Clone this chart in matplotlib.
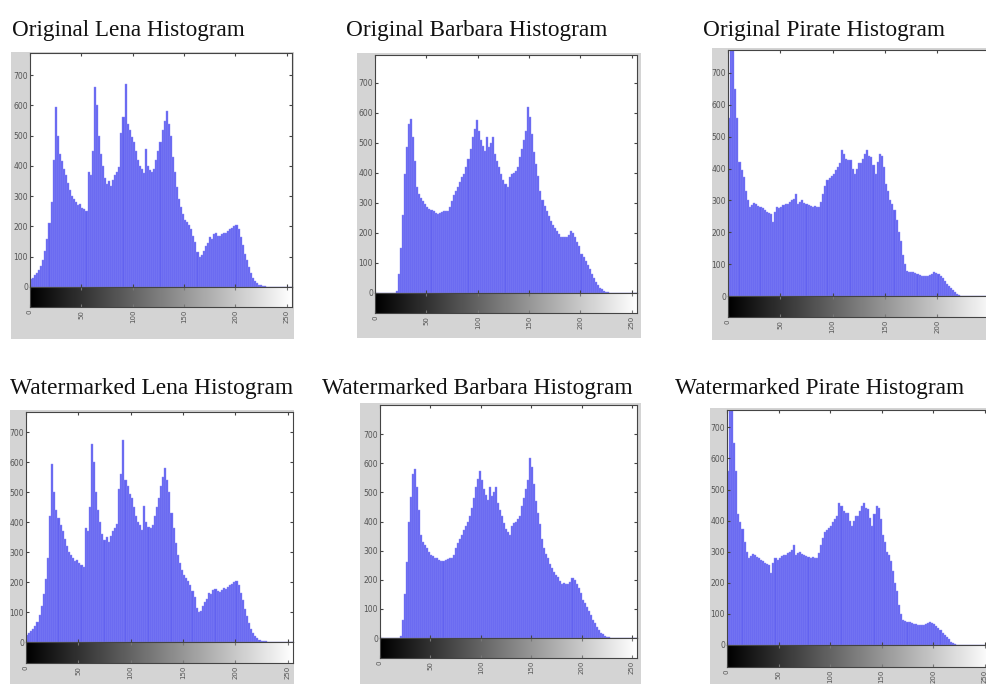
import matplotlib
matplotlib.use('Agg')
import matplotlib.pyplot as plt
import numpy as np
from matplotlib.patches import Rectangle

# gray levels, one value per pair of levels (0, 2, 4, ... 254)
gray_levels = np.arange(0, 256, 2)

lena = [25, 30, 38, 45, 55, 68, 90, 120, 160, 210, 280, 420, 595, 500, 440, 415,
        390, 370, 345, 320, 300, 290, 280, 270, 275, 262, 258, 250, 380, 370, 450, 660,
        600, 500, 440, 400, 360, 340, 350, 335, 355, 370, 380, 395, 510, 560, 672, 540,
        520, 495, 480, 450, 420, 400, 390, 375, 455, 400, 385, 380, 390, 420, 450, 480,
        520, 550, 580, 540, 500, 430, 380, 330, 290, 265, 240, 222, 215, 205, 190, 170,
        150, 115, 100, 105, 120, 135, 145, 165, 160, 175, 178, 170, 168, 175, 180, 178,
        185, 190, 195, 200, 205, 190, 165, 140, 110, 88, 65, 45, 30, 20, 12, 8,
        5, 3, 2, 1, 0, 0, 0, 0, 0, 0, 0, 0, 0, 0, 0, 0]

barbara = [0, 0, 0, 0, 0, 0, 0, 0, 0, 0, 8, 63, 150, 260, 397, 485,
           563, 580, 519, 440, 352, 330, 318, 308, 295, 286, 280, 275, 274, 268, 263, 266,
           269, 272, 274, 274, 285, 308, 325, 340, 352, 370, 385, 397, 420, 445, 480, 519,
           545, 575, 541, 510, 490, 474, 519, 486, 500, 519, 463, 440, 419, 395, 375, 363,
           352, 385, 395, 400, 408, 420, 452, 480, 510, 541, 619, 586, 530, 470, 430, 390,
           341, 310, 290, 274, 255, 241, 225, 215, 208, 195, 186, 188, 185, 186, 192, 205,
           200, 185, 170, 155, 130, 120, 105, 92, 80, 63, 50, 38, 28, 18, 13, 8,
           4, 2, 1, 0, 0, 0, 0, 0, 0, 0, 0, 0, 0, 0, 0, 0]

pirate = [560, 790, 790, 650, 560, 420, 395, 374, 330, 300, 280, 285, 292, 288, 282, 279,
          275, 270, 265, 262, 258, 232, 265, 279, 275, 279, 285, 290, 290, 295, 300, 305,
          321, 290, 295, 300, 292, 290, 285, 282, 279, 282, 280, 279, 295, 321, 345, 363,
          370, 378, 384, 395, 405, 416, 458, 447, 430, 426, 426, 400, 384, 400, 416, 416,
          430, 447, 458, 440, 437, 410, 384, 420, 447, 440, 405, 353, 330, 300, 290, 270,
          237, 200, 174, 130, 100, 79, 76, 75, 74, 72, 68, 66, 64, 63, 64, 63,
          66, 70, 74, 72, 68, 62, 55, 48, 38, 32, 25, 18, 11, 6, 2, 0,
          0, 0, 0, 0, 0, 0, 0, 0, 0, 0, 0, 0, 0, 0, 0, 0]

# the watermarked histograms look the same as the originals
histograms = [lena, barbara, pirate, lena, barbara, pirate]
titles = ["Original Lena Histogram", "Original Barbara Histogram", "Original Pirate Histogram",
          "Watermarked Lena Histogram", "Watermarked Barbara Histogram", "Watermarked Pirate Histogram"]
y_max = [773, 793, 772, 767, 800, 756]
y_ticks = list(range(0, 701, 100))
x_ticks = list(range(0, 251, 50))

W, H = 987, 684

# pixel boxes (left, top, right, bottom) of the gray panels
gray_boxes = [(11, 52, 294, 339), (357, 53, 641, 338), (712, 48, 995, 340),
              (10, 410, 294, 684), (360, 403, 641, 684), (710, 408, 995, 684)]
# hist axes: left, top, right, zero line, colorbar bottom
axes_boxes = [(30, 53, 292, 287, 307), (375, 55, 637, 293, 313), (728, 50, 995, 296, 317),
              (26, 412, 293, 642, 663), (380, 405, 637, 638, 658), (727, 410, 990, 645, 667)]
# title: left, right, baseline
title_boxes = [(12, 245, 36), (346, 607, 36), (703, 945, 36),
               (10, 293, 394), (322, 632, 394), (675, 965, 394)]

fig = plt.figure(figsize=(W / 100, H / 100), dpi=100)
fig.patch.set_facecolor('white')

gradient = np.linspace(0, 1, 256)[None, :]

for i in range(6):
    gl, gt, gr, gb = gray_boxes[i]
    fig.add_artist(Rectangle((gl / W, 1 - gb / H), (gr - gl) / W, (gb - gt) / H,
                             transform=fig.transFigure, facecolor='#d4d4d4',
                             edgecolor='none', zorder=0))

    al, at, ar, az, cb = axes_boxes[i]
    ax = fig.add_axes([al / W, 1 - az / H, (ar - al) / W, (az - at) / H])
    ax.bar(gray_levels, histograms[i], width=2.0, align='edge', color='#6262f0',
           edgecolor='#8e8ef6', linewidth=0.3)
    ax.set_xlim(0, 255)
    ax.set_ylim(0, y_max[i])
    ax.set_xticks(x_ticks)
    ax.set_xticklabels([])
    ax.set_yticks(y_ticks)
    ax.tick_params(direction='in', length=2.5, top=True, right=True, labelsize=5.5,
                   labelcolor='#555555', color='#444444', pad=1.5)
    for s in ax.spines.values():
        s.set_color('#444444')
        s.set_linewidth(0.8)

    cax = fig.add_axes([al / W, 1 - cb / H, (ar - al) / W, (cb - az) / H])
    cax.imshow(gradient, cmap='gray', aspect='auto', extent=[0, 255, 0, 1])
    cax.set_xlim(0, 255)
    cax.set_yticks([])
    cax.set_xticks(x_ticks)
    cax.tick_params(axis='x', direction='in', length=2.5, top=True, labelsize=5,
                    labelcolor='#555555', color='#777777', labelrotation=90, pad=2)
    for s in cax.spines.values():
        s.set_color('#444444')
        s.set_linewidth(0.8)

renderer = fig.canvas.get_renderer()
for title, (tl, tr, tb) in zip(titles, title_boxes):
    t = fig.text((tl + tr) / 2 / W, 1 - tb / H, title, ha='center', va='baseline',
                 family='Liberation Serif', fontsize=20, color='#111111')
    w = t.get_window_extent(renderer).width
    t.set_fontsize(20 * (tr - tl) / w)

fig.savefig('out.png', dpi=100)
